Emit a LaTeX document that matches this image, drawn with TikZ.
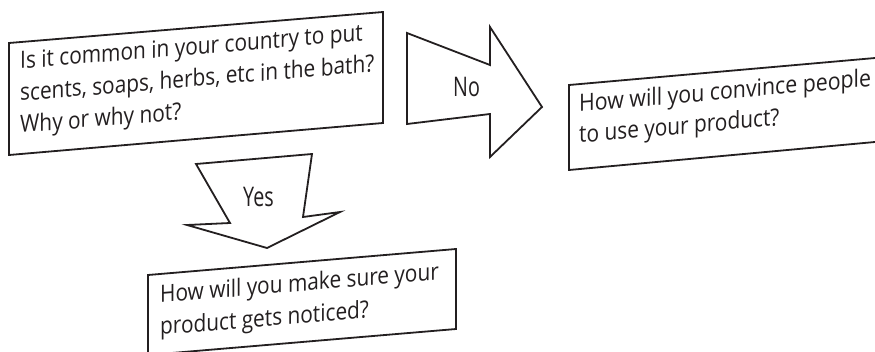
\documentclass[tikz,border=0pt]{standalone}
\usepackage{fontspec}
\setmainfont[FakeStretch=0.875]{Open Sans}
\newfontfamily\widefont[FakeStretch=0.895]{Open Sans}
\newfontfamily\labelfont[FakeStretch=0.73]{Open Sans}
\definecolor{ink}{HTML}{231F20}
\tikzset{
  frame/.style={draw=ink, line width=1.8pt, line join=miter, fill=white},
  boxtext/.style={text=ink, align=left, inner sep=0pt, anchor=base west,
    font=\fontsize{23.8}{32}\selectfont},
  labeltext/.style={text=ink, inner sep=0pt, anchor=base west,
    font=\labelfont\fontsize{27}{32}\selectfont},
}
\begin{document}
\begin{tikzpicture}[x=1pt,y=-1pt]
\useasboundingbox (0,0) rectangle (875,351);
\clip (0,0) rectangle (875,351);
% box 1
\draw[frame] (9,43) -- (383,12) -- (383,123) -- (9,155) -- cycle;
\node[boxtext, yslant=0.083] (q1) at (20,133)
  {Is it common in your country to put\\scents, soaps, herbs, etc in the bath?\\Why or why not?};
% No arrow
\draw[frame] (407,33) -- (490,65) -- (490,27) -- (542,107) -- (490,157) -- (490,114) -- (407,124) -- cycle;
\node[labeltext] (no) at (453,96) {No};
% box 2
\draw[frame] (569,85) -- (900,55.8) -- (900,139.7) -- (569,170) -- cycle;
\node[boxtext, yslant=0.088, font=\fontsize{23.8}{31}\selectfont] (q2) at (579,143)
  {{\widefont How will you convince people}\\to use your product?};
% Yes arrow
\draw[frame] (196,164) -- (312,154) -- (303,217) -- (340,212) -- (267,248) -- (187,225) -- (230,223) -- cycle;
\node[labeltext] (yes) at (243,206) {Yes};
% box 3
\draw[frame] (148,275) -- (456,249) -- (456,329) -- (148,355) -- cycle;
\node[boxtext, yslant=0.084] (q3) at (160,335)
  {How will you make sure your\\product gets noticed?};
\end{tikzpicture}
\end{document}
